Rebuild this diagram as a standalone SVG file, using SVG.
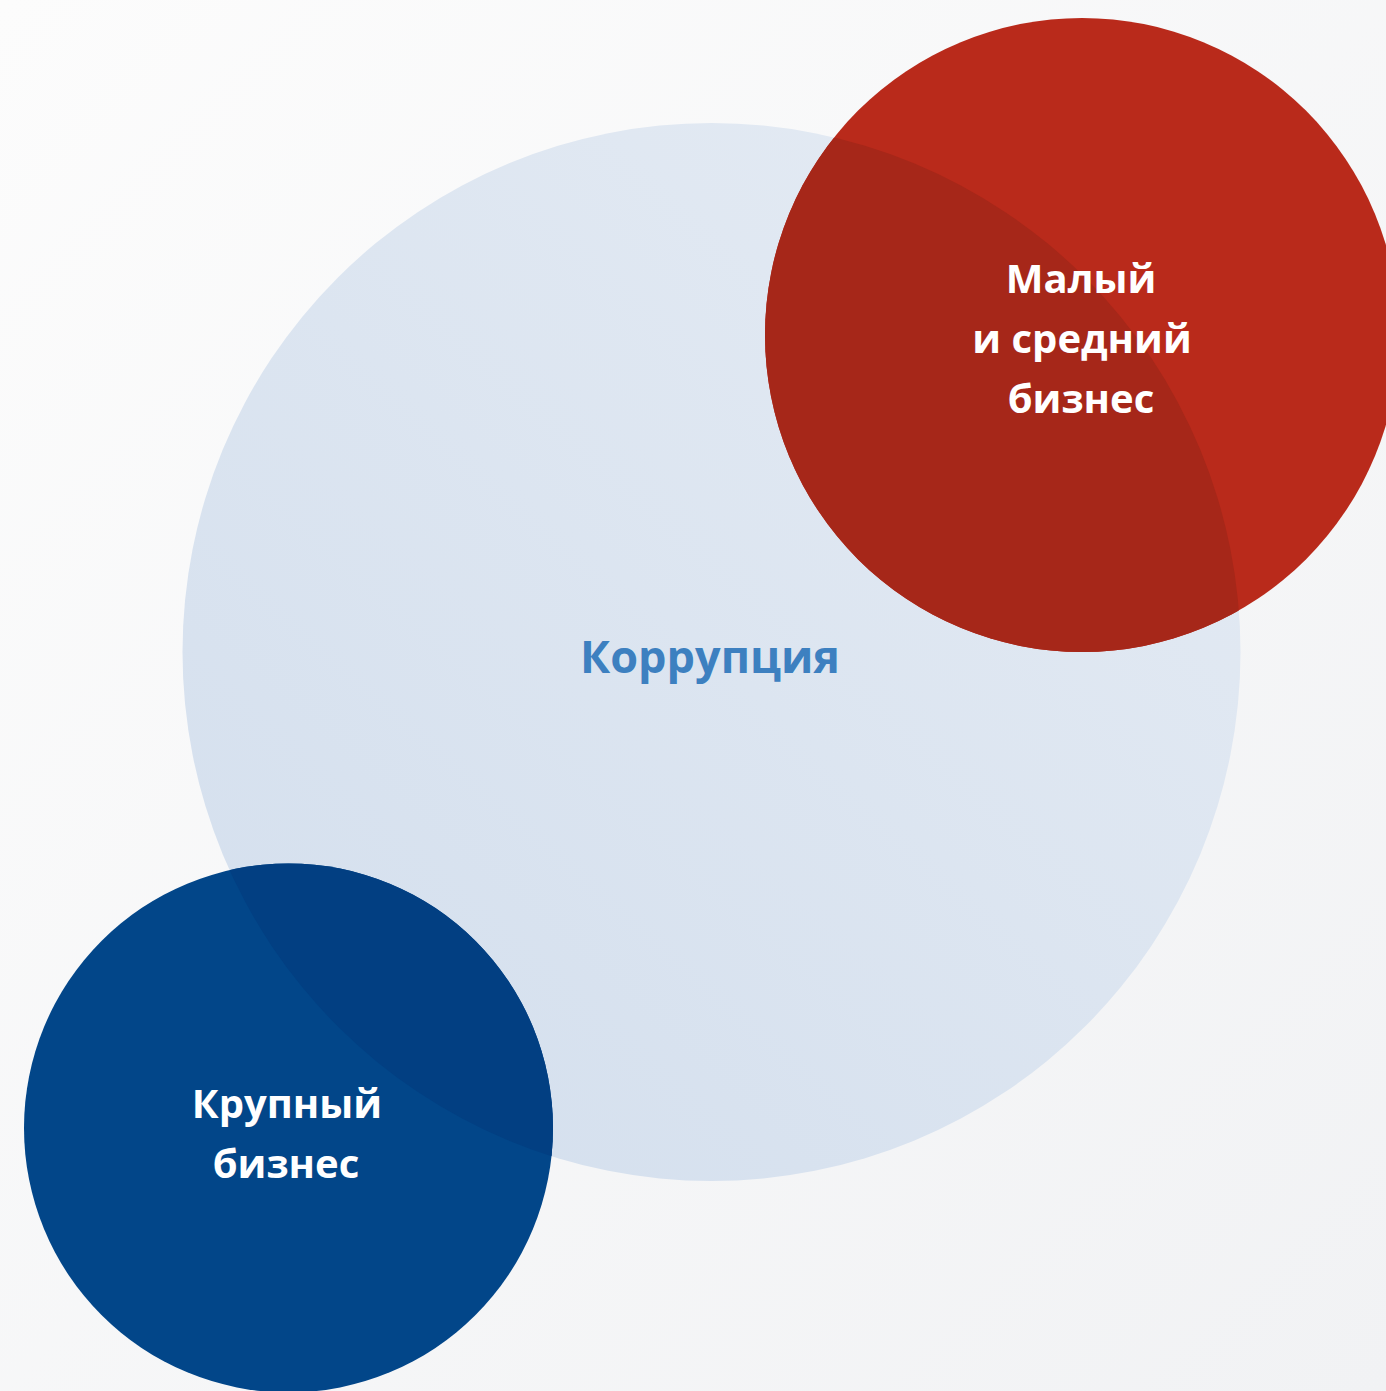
<svg xmlns="http://www.w3.org/2000/svg" width="1386" height="1391" viewBox="0 0 1386 1391">
<defs>
<linearGradient id="bg" x1="0" y1="0" x2="1" y2="1">
<stop offset="0" stop-color="#fcfcfc"/>
<stop offset="1" stop-color="#f1f2f4"/>
</linearGradient>
<linearGradient id="big" x1="0.85" y1="0.1" x2="0.15" y2="0.9">
<stop offset="0" stop-color="#e3eaf3"/>
<stop offset="1" stop-color="#d5e0ee"/>
</linearGradient>
<clipPath id="bigclip"><circle cx="711.5" cy="652" r="529"/></clipPath>
<style>
.lbl{font-family:"Open Sans","Liberation Sans",sans-serif;font-weight:700;font-size:40px;text-anchor:middle}
.w{fill:#ffffff}
</style>
</defs>
<rect width="1386" height="1391" fill="url(#bg)"/>
<g id="corruption">
<circle cx="711.5" cy="652" r="529" fill="url(#big)"/>
<text class="lbl" x="710" y="673" fill="#3d80c0" style="font-size:45px">Коррупция</text>
</g>
<g id="small-business">
<circle cx="1082" cy="335" r="317" fill="#b92a1b"/>
<circle cx="1082" cy="335" r="317" fill="#a62719" clip-path="url(#bigclip)"/>
<text class="lbl w" x="1081" y="293">Малый</text>
<text class="lbl w" x="1082" y="353">и средний</text>
<text class="lbl w" x="1081" y="413">бизнес</text>
</g>
<g id="big-business">
<circle cx="288.5" cy="1128" r="264.5" fill="#024689"/>
<circle cx="288.5" cy="1128" r="264.5" fill="#023f82" clip-path="url(#bigclip)"/>
<text class="lbl w" x="287" y="1118">Крупный</text>
<text class="lbl w" x="286" y="1178">бизнес</text>
</g>
<g id="connectors"/>
</svg>
